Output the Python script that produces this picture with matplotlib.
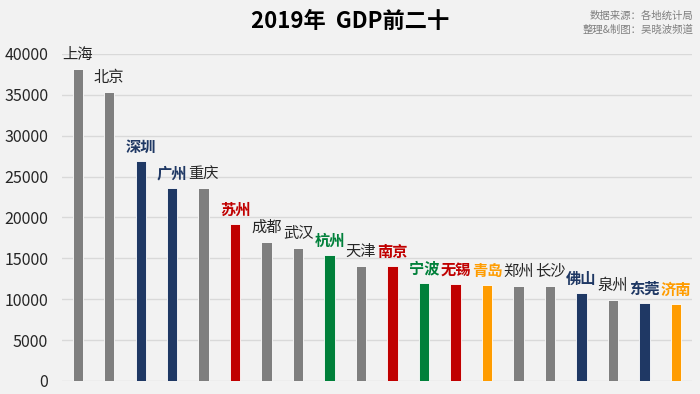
import matplotlib
matplotlib.use("Agg")
import matplotlib.pyplot as plt

plt.rcParams['font.family'] = ['Noto Sans CJK SC', 'DejaVu Sans']

cities = ['上海', '北京', '深圳', '广州', '重庆', '苏州', '成都', '武汉', '杭州', '天津',
          '南京', '宁波', '无锡', '青岛', '郑州', '长沙', '佛山', '泉州', '东莞', '济南']
gdp = [38155, 35371, 26927, 23629, 23605, 19236, 17013, 16223, 15373, 14104,
       14030, 11985, 11852, 11741, 11590, 11574, 10751, 9946, 9482, 9443]
groups = ['other', 'other', 'gd', 'gd', 'other', 'js', 'other', 'other', 'zj', 'other',
          'js', 'zj', 'js', 'sd', 'other', 'other', 'gd', 'other', 'gd', 'sd']
yticks = [0, 5000, 10000, 15000, 20000, 25000, 30000, 35000, 40000]

palette = {'other': '#7f7f7f', 'gd': '#1f3864', 'js': '#c00000', 'zj': '#00803a', 'sd': '#ff9c00'}
label_palette = {'other': '#262626', 'gd': '#1f3864', 'js': '#c00000', 'zj': '#00803a', 'sd': '#ff9c00'}

fig = plt.figure(figsize=(7, 3.94), dpi=100, facecolor='#f2f2f2')
ax = fig.add_axes([0.0886, 0.033, 0.8994, 0.830])
ax.set_facecolor('#f2f2f2')

x = list(range(len(cities)))
colors = [palette[g] for g in groups]
ax.bar(x, gdp, width=0.33, color=colors, edgecolor='white', linewidth=0.6, zorder=3)

for xi, v, c, g in zip(x, gdp, cities, groups):
    ax.annotate(c, (xi, v), xytext=(0, 4.5), textcoords='offset points',
                ha='center', va='bottom', fontsize=11,
                fontweight='normal' if g == 'other' else 'bold',
                color=label_palette[g], annotation_clip=False)

ax.set_xlim(-0.5, len(cities) - 0.5)
ax.set_ylim(0, 40000)
ax.set_yticks(yticks)
ax.set_yticklabels([str(t) for t in yticks], fontsize=11.5, color='#262626')
ax.set_xticks([])
ax.tick_params(axis='y', length=0, pad=10)
ax.grid(axis='y', color='#d9d9d9', linewidth=1, zorder=0)
for s in ax.spines.values():
    s.set_visible(False)

fig.text(0.5, 0.945, '2019年  GDP前二十', ha='center', va='center',
         fontsize=16, fontweight='bold', color='black')
fig.text(0.99, 0.96, '数据来源：各地统计局', ha='right', va='center', fontsize=7.5, color='#7f7f7f')
fig.text(0.99, 0.925, '整理&制图：吴晓波频道', ha='right', va='center', fontsize=7.5, color='#7f7f7f')

fig.savefig('out.png', dpi=100, facecolor=fig.get_facecolor())
